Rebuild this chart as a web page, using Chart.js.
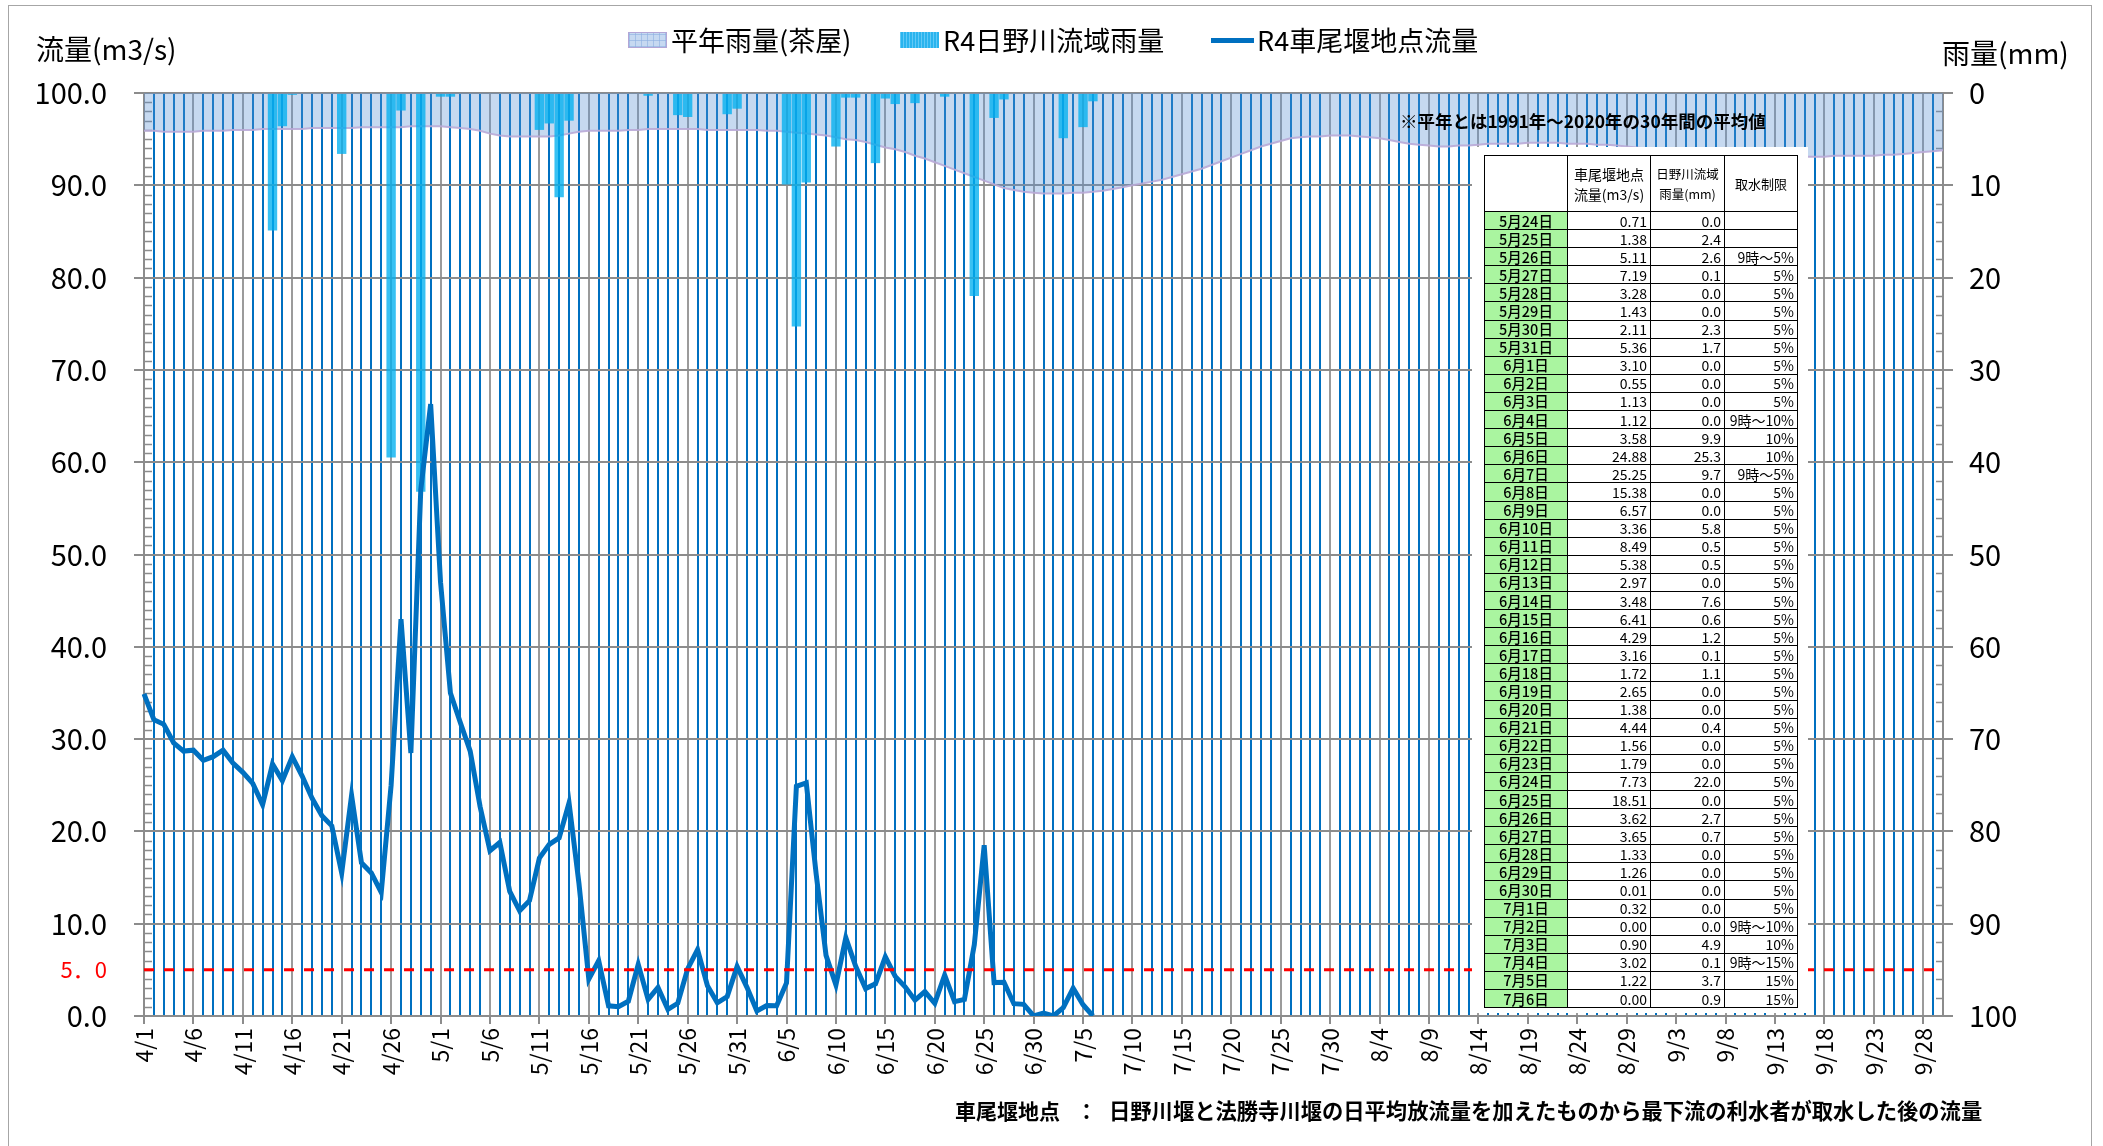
<!DOCTYPE html>
<html>
<head>
<meta charset="utf-8">
<title>車尾堰地点流量</title>
<script src="https://cdn.jsdelivr.net/npm/chart.js@4"></script>
<style>
    body { margin: 0; background: #fff; font-family: 'Noto Sans CJK JP', sans-serif; }
    #wrap { position: relative; width: 2103px; height: 1146px; overflow: hidden; }
    #frame { position: absolute; left: 8px; top: 5px; width: 2082px; height: 1150px; border: 1.5px solid #a6a6a6; }
    canvas { position: absolute; left: 0; top: 0; }
    .txt { position: absolute; white-space: nowrap; color: #000; }
    .sw { position: absolute; box-sizing: border-box; }
    #box { position: absolute; left: 1472px; top: 147px; width: 336px; height: 866px; background: #fff; }
    #tbl { position: absolute; left: 1484px; top: 155px; border-collapse: collapse; table-layout: fixed; width: 313px; }
    #tbl td { border: 1.5px solid #000; padding: 0 3px; font-size: 14px; line-height: 16px; height: 17.1px; text-align: right; }
    #tbl td.d { background: #aaf5a0; text-align: center; font-size: 14.5px; font-weight: 500; }
    #tbl tr.h td { height: 55px; text-align: center; line-height: 20px; }
</style>
</head>
<body>
<div id="wrap">
    <canvas id="flowChart" width="2103" height="1146"></canvas>
    <div id="frame"></div>

    <div class="txt" style="left:36px;top:33px;font-size:28px;line-height:30px;">流量(m3/s)</div>
    <div class="txt" style="left:1942px;top:37px;font-size:28px;line-height:30px;">雨量(mm)</div>

    <div class="sw" style="left:628px;top:32px;width:39px;height:16px;border:1px solid #b3a6d6;
        background-color:#c6d9f1;
        background-image:repeating-linear-gradient(90deg, rgba(140,175,225,.6) 0 1px, transparent 1px 6px),
                         repeating-linear-gradient(0deg, rgba(140,175,225,.6) 0 1px, transparent 1px 6px);"></div>
    <div class="txt" style="left:671px;top:25px;font-size:27px;line-height:30px;">平年雨量(茶屋)</div>

    <div class="sw" style="left:900px;top:32px;width:39px;height:16px;
        background-color:#2ab4ee;
        background-image:repeating-linear-gradient(90deg, rgba(120,210,250,.7) 0 1px, transparent 1px 3px);"></div>
    <div class="txt" style="left:943px;top:25px;font-size:27px;line-height:30px;">R4日野川流域雨量</div>

    <div class="sw" style="left:1211px;top:38px;width:43px;height:5px;background:#0070c0;"></div>
    <div class="txt" style="left:1257px;top:25px;font-size:27px;line-height:30px;">R4車尾堰地点流量</div>

    <div class="txt" style="left:1400px;top:110px;font-size:17.5px;line-height:22px;font-weight:bold;">※平年とは1991年～2020年の30年間の平均値</div>

    <div id="box"></div>
    <table id="tbl"></table>

    <div class="txt" style="left:955px;top:1097px;font-size:21px;line-height:26px;font-weight:bold;">車尾堰地点</div>
    <div class="txt" style="left:1076px;top:1097px;font-size:21px;line-height:26px;font-weight:bold;">：</div>
    <div class="txt" style="left:1109px;top:1097px;font-size:21.3px;line-height:26px;font-weight:bold;">日野川堰と法勝寺川堰の日平均放流量を加えたものから最下流の利水者が取水した後の流量</div>
</div>

<script>
    // 期間 4/1 ～ 9/30
    var months = [4, 5, 6, 7, 8, 9];
    var monthDays = [30, 31, 30, 31, 31, 30];

    // R4車尾堰地点流量 (m3/s)
    var flowApr = [34.9, 32.1, 31.6, 29.6, 28.7, 28.8, 27.7, 28.1, 28.8, 27.4,
                   26.4, 25.2, 22.9, 27.3, 25.5, 28.1, 26.0, 23.6, 21.7, 20.6,
                   15.5, 23.9, 16.6, 15.5, 13.4, 25.0, 43.0, 28.5, 57.0, 66.3];
    var flowMay = [47.0, 35.0, 31.8, 28.7, 22.7, 17.9, 18.8, 13.5, 11.4, 12.5,
                   17.1, 18.6, 19.3, 23.1, 14.4, 4.0, 6.0, 1.1, 1.0, 1.6,
                   5.6, 1.8, 3.1, 0.71, 1.38, 5.11, 7.19, 3.28, 1.43, 2.11, 5.36];
    var flowJun = [3.10, 0.55, 1.13, 1.12, 3.58, 24.88, 25.25, 15.38, 6.57, 3.36,
                   8.49, 5.38, 2.97, 3.48, 6.41, 4.29, 3.16, 1.72, 2.65, 1.38,
                   4.44, 1.56, 1.79, 7.73, 18.51, 3.62, 3.65, 1.33, 1.26, 0.01];
    var flowJul = [0.32, 0.00, 0.90, 3.02, 1.22, 0.00];

    // R4日野川流域雨量 (mm)
    var rainApr = [0, 0, 0, 0, 0, 0, 0, 0, 0, 0,
                   0, 0, 0, 14.9, 3.6, 0.2, 0, 0, 0, 0,
                   6.6, 0, 0, 0, 0, 39.5, 1.9, 0, 43.2, 0.1];
    var rainMay = [0.4, 0.4, 0, 0, 0, 0, 0, 0, 0, 0,
                   4.0, 3.3, 11.3, 3.0, 0, 0, 0, 0, 0, 0,
                   0, 0.3, 0, 0.0, 2.4, 2.6, 0.1, 0.0, 0.0, 2.3, 1.7];
    var rainJun = [0.0, 0.0, 0.0, 0.0, 9.9, 25.3, 9.7, 0.0, 0.0, 5.8,
                   0.5, 0.5, 0.0, 7.6, 0.6, 1.2, 0.1, 1.1, 0.0, 0.0,
                   0.4, 0.0, 0.0, 22.0, 0.0, 2.7, 0.7, 0.0, 0.0, 0.0];
    var rainJul = [0.0, 0.0, 4.9, 0.1, 3.7, 0.9];

    // 平年雨量(茶屋) (mm)
    var avgApr = [4.1, 4.1, 4.2, 4.2, 4.2, 4.2, 4.1, 4.1, 4.1, 4.0,
                  4.0, 4.0, 3.9, 3.9, 3.9, 3.9, 3.9, 3.8, 3.8, 3.8,
                  3.8, 3.8, 3.7, 3.7, 3.7, 3.7, 3.7, 3.6, 3.6, 3.6];
    var avgMay = [3.6, 3.7, 3.8, 3.9, 4.1, 4.4, 4.6, 4.7, 4.7, 4.7,
                  4.7, 4.7, 4.6, 4.4, 4.2, 4.1, 4.1, 4.1, 4.1, 4.0,
                  4.0, 3.9, 3.9, 3.9, 3.9, 3.9, 3.9, 4.0, 4.0, 4.0, 4.0];
    var avgJun = [4.0, 4.0, 4.1, 4.1, 4.2, 4.3, 4.4, 4.5, 4.6, 4.8,
                  5.0, 5.1, 5.3, 5.6, 5.9, 6.1, 6.4, 6.8, 7.1, 7.5,
                  7.9, 8.3, 8.7, 9.1, 9.5, 9.9, 10.3, 10.5, 10.7, 10.8];
    var avgJul = [10.9, 10.9, 10.9, 10.8, 10.8, 10.7, 10.6, 10.4, 10.2, 10.0,
                  9.8, 9.6, 9.4, 9.1, 8.8, 8.5, 8.2, 7.8, 7.4, 7.0,
                  6.6, 6.2, 5.8, 5.5, 5.2, 4.9, 4.8, 4.7, 4.7, 4.6, 4.6];
    var avgAug = [4.6, 4.7, 4.8, 4.9, 5.1, 5.3, 5.5, 5.6, 5.7, 5.8,
                  5.8, 5.7, 5.7, 5.6, 5.5, 5.5, 5.5, 5.5, 5.4, 5.4,
                  5.4, 5.4, 5.5, 5.5, 5.5, 5.6, 5.6, 5.7, 5.8, 5.9, 6.0];
    var avgSep = [6.1, 6.2, 6.3, 6.4, 6.5, 6.6, 6.7, 6.8, 6.9, 7.0,
                  7.0, 7.0, 7.0, 7.0, 6.9, 6.9, 6.9, 6.9, 6.8, 6.8,
                  6.8, 6.8, 6.8, 6.7, 6.7, 6.6, 6.5, 6.4, 6.3, 6.2];

    // 取水制限 (5/24 ～ 7/6)
    var restrict = ['', '', '9時～5%', '5%', '5%', '5%', '5%', '5%', '5%', '5%', '5%',
                    '9時～10%', '10%', '10%', '9時～5%',
                    '5%', '5%', '5%', '5%', '5%', '5%', '5%', '5%', '5%', '5%', '5%', '5%',
                    '5%', '5%', '5%', '5%', '5%', '5%', '5%', '5%', '5%', '5%', '5%', '5%',
                    '9時～10%', '10%', '9時～15%', '15%', '15%'];
    var tableStart = 53;   // 5/24
    var limitFlow = 5.0;

    var dayLabels = [];
    months.forEach(function (m, k) {
        for (var d = 1; d <= monthDays[k]; d++) dayLabels.push(m + '/' + d);
    });
    var flow = flowApr.concat(flowMay, flowJun, flowJul);
    var rain = rainApr.concat(rainMay, rainJun, rainJul);
    var avgRain = avgApr.concat(avgMay, avgJun, avgJul, avgAug, avgSep);

    // 表
    var tbl = document.getElementById('tbl');
    var html = '<colgroup><col style="width:83px"><col style="width:83px"><col style="width:74px"><col style="width:73px"></colgroup>';
    html += '<tr class="h"><td></td><td style="font-size:14px">車尾堰地点<br>流量(m3/s)</td>' +
            '<td style="font-size:12.5px">日野川流域<br>雨量(mm)</td><td style="font-size:13px">取水制限</td></tr>';
    for (var i = 0; i < restrict.length; i++) {
        var idx = tableStart + i;
        var md = dayLabels[idx].split('/');
        html += '<tr><td class="d">' + md[0] + '月' + md[1] + '日</td><td>' + flow[idx].toFixed(2) +
                '</td><td>' + rain[idx].toFixed(1) + '</td><td>' + restrict[i] + '</td></tr>';
    }
    tbl.innerHTML = html;

    var extras = {
        id: 'extras',
        beforeDatasetsDraw: function (chart) {
            var ctx = chart.ctx, a = chart.chartArea, y = chart.scales.y, y2 = chart.scales.y2;
            ctx.save();
            ctx.strokeStyle = '#8c8c8c';
            ctx.lineWidth = 1.5;
            ctx.beginPath();
            for (var v = 1; v < 100; v++) {
                if (v % 10 === 0) continue;
                var py = Math.round(y.getPixelForValue(v)) + 0.5;
                ctx.moveTo(a.left, py); ctx.lineTo(a.left + 8, py);
            }
            for (var w = 2; w < 100; w += 2) {
                if (w % 10 === 0) continue;
                var qy = Math.round(y2.getPixelForValue(w)) + 0.5;
                ctx.moveTo(a.right - 7, qy); ctx.lineTo(a.right, qy);
            }
            ctx.stroke();
            ctx.restore();
        },
        afterDatasetsDraw: function (chart) {
            var ctx = chart.ctx, a = chart.chartArea, y = chart.scales.y;
            var ty = y.getPixelForValue(limitFlow);
            ctx.save();
            ctx.strokeStyle = '#ff0000';
            ctx.lineWidth = 3;
            ctx.setLineDash([10, 10]);
            ctx.beginPath();
            ctx.moveTo(a.left, ty);
            ctx.lineTo(a.right, ty);
            ctx.stroke();
            ctx.fillStyle = '#ff0000';
            ctx.font = "22px 'Noto Sans CJK JP'";
            ctx.textAlign = 'right';
            ctx.textBaseline = 'middle';
            ctx.fillText('5．0', a.left - 37, ty);
            ctx.restore();
        }
    };

    Chart.defaults.font.family = "'Noto Sans CJK JP', sans-serif";
    Chart.defaults.color = '#000';

    var ctx = document.getElementById('flowChart').getContext('2d');
    var flowChart = new Chart(ctx, {
        type: 'bar',
        data: {
            labels: dayLabels,
            datasets: [
                {
                    type: 'line',
                    label: 'R4車尾堰地点流量',
                    data: flow,
                    yAxisID: 'y',
                    borderColor: '#0070c0',
                    borderWidth: 5,
                    pointRadius: 0,
                    tension: 0,
                    fill: false,
                    order: 1
                },
                {
                    type: 'bar',
                    label: 'R4日野川流域雨量',
                    data: rain,
                    yAxisID: 'y2',
                    backgroundColor: 'rgba(0,176,240,0.78)',
                    barPercentage: 1,
                    categoryPercentage: 0.95,
                    order: 2
                },
                {
                    type: 'line',
                    label: '平年雨量(茶屋)',
                    data: avgRain,
                    yAxisID: 'y2',
                    borderColor: 'rgba(185,170,215,0.9)',
                    borderWidth: 2,
                    backgroundColor: 'rgba(92,146,212,0.35)',
                    pointRadius: 0,
                    tension: 0,
                    fill: { value: 0 },
                    order: 3
                }
            ]
        },
        options: {
            responsive: false,
            animation: false,
            devicePixelRatio: 1,
            layout: { padding: { top: 93, left: 0, right: 0, bottom: 0 } },
            plugins: {
                legend: { display: false },
                tooltip: { enabled: false }
            },
            scales: {
                x: {
                    type: 'category',
                    offset: false,
                    grid: {
                        offset: false,
                        lineWidth: 2,
                        tickLength: 8,
                        color: function (c) { return c.index % 5 === 0 ? '#9b9b9b' : '#0070c0'; },
                        tickColor: function (c) { return c.index % 5 === 0 ? '#8c8c8c' : 'rgba(0,0,0,0)'; }
                    },
                    border: { color: '#8c8c8c', width: 2 },
                    ticks: {
                        autoSkip: false,
                        maxRotation: 90,
                        minRotation: 90,
                        padding: 4,
                        font: { size: 23 },
                        callback: function (v, i) { return i % 5 === 0 ? dayLabels[i] : ''; }
                    },
                    afterFit: function (s) { s.height = 130; }
                },
                y: {
                    position: 'left',
                    min: 0,
                    max: 100,
                    ticks: {
                        stepSize: 10,
                        padding: 27,
                        font: { size: 29 },
                        callback: function (v) { return v.toFixed(1); }
                    },
                    grid: { color: '#8c8c8c', lineWidth: 2, tickLength: 10 },
                    border: { color: '#8c8c8c', width: 2 },
                    afterFit: function (s) { s.width = 144; }
                },
                y2: {
                    position: 'right',
                    min: 0,
                    max: 100,
                    reverse: true,
                    ticks: { stepSize: 10, padding: 16, font: { size: 29 } },
                    grid: { drawOnChartArea: false, color: '#8c8c8c', lineWidth: 2, tickLength: 10 },
                    border: { color: '#8c8c8c', width: 2 },
                    afterFit: function (s) { s.width = 160; }
                }
            }
        },
        plugins: [extras]
    });
</script>
</body>
</html>
